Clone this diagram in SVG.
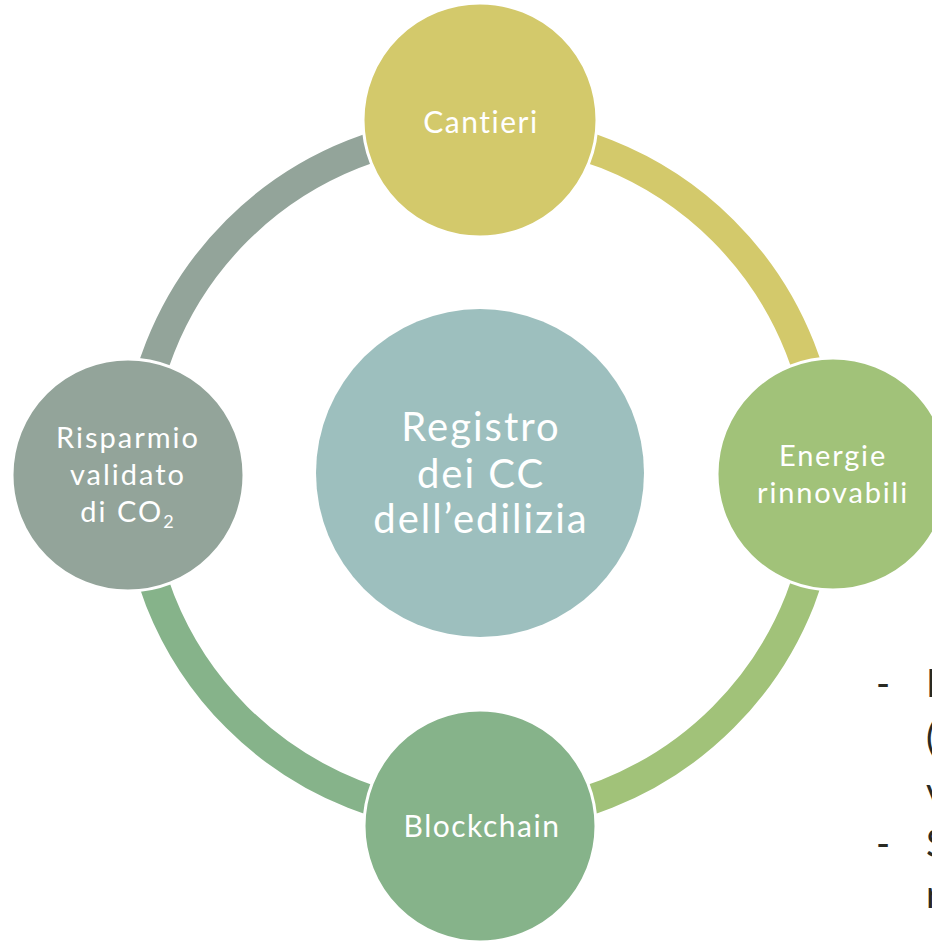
<svg xmlns="http://www.w3.org/2000/svg" width="932" height="942" viewBox="0 0 932 942">
<style>
.arc{fill:none;stroke-width:30}
.node{stroke:#ffffff;stroke-width:3}
.lbl{font-family:Lato,"Open Sans",sans-serif;fill:#ffffff;text-anchor:middle;font-variant-ligatures:none}
.side{font-family:Lato,"Open Sans",sans-serif;fill:#2a2a22;font-size:38px}
</style>
<rect width="932" height="942" fill="#ffffff"/>
<g id="connectors">
<path class="arc" stroke="#D3C96B" d="M480,130 A344,344 0 0 1 824,474"/>
<path class="arc" stroke="#A1C279" d="M824,474 A344,344 0 0 1 480,818"/>
<path class="arc" stroke="#86B38A" d="M480,818 A344,344 0 0 1 136,474"/>
<path class="arc" stroke="#93A49A" d="M136,474 A344,344 0 0 1 480,130"/>
</g>
<g id="center">
<circle cx="480" cy="473" r="164" fill="#9DBFBE"/>
<text class="lbl" font-size="40" letter-spacing="2"><tspan x="481" y="441">Registro</tspan><tspan x="481" y="488">dei CC</tspan><tspan x="481" y="533">dell’edilizia</tspan></text>
</g>
<g id="cantieri">
<circle class="node" cx="480" cy="120" r="117" fill="#D3C96B"/>
<text class="lbl" font-size="30" letter-spacing="1.5" x="481" y="133">Cantieri</text>
</g>
<g id="energie">
<circle class="node" cx="833" cy="474" r="116" fill="#A1C279"/>
<text class="lbl" font-size="29" letter-spacing="1.8"><tspan x="833" y="466">Energie</tspan><tspan x="833" y="503">rinnovabili</tspan></text>
</g>
<g id="blockchain">
<circle class="node" cx="480" cy="826" r="116" fill="#86B38A"/>
<text class="lbl" font-size="30" letter-spacing="1.5" x="482" y="837">Blockchain</text>
</g>
<g id="risparmio">
<circle class="node" cx="128" cy="475" r="116" fill="#93A49A"/>
<text class="lbl" font-size="29" letter-spacing="2"><tspan x="128" y="448">Risparmio</tspan><tspan x="128" y="485">validato</tspan><tspan x="128" y="522">di CO<tspan font-size="18" dy="6">2</tspan></tspan></text>
</g>
<g id="sidetext">
<text class="side"><tspan x="876" y="697">-</tspan><tspan x="926" y="697">N</tspan></text>
<text class="side" x="926" y="751">(</text>
<text class="side" x="926" y="805">v</text>
<text class="side"><tspan x="876" y="857">-</tspan><tspan x="926" y="857">S</tspan></text>
<text class="side" x="926" y="908">r</text>
</g>
</svg>
